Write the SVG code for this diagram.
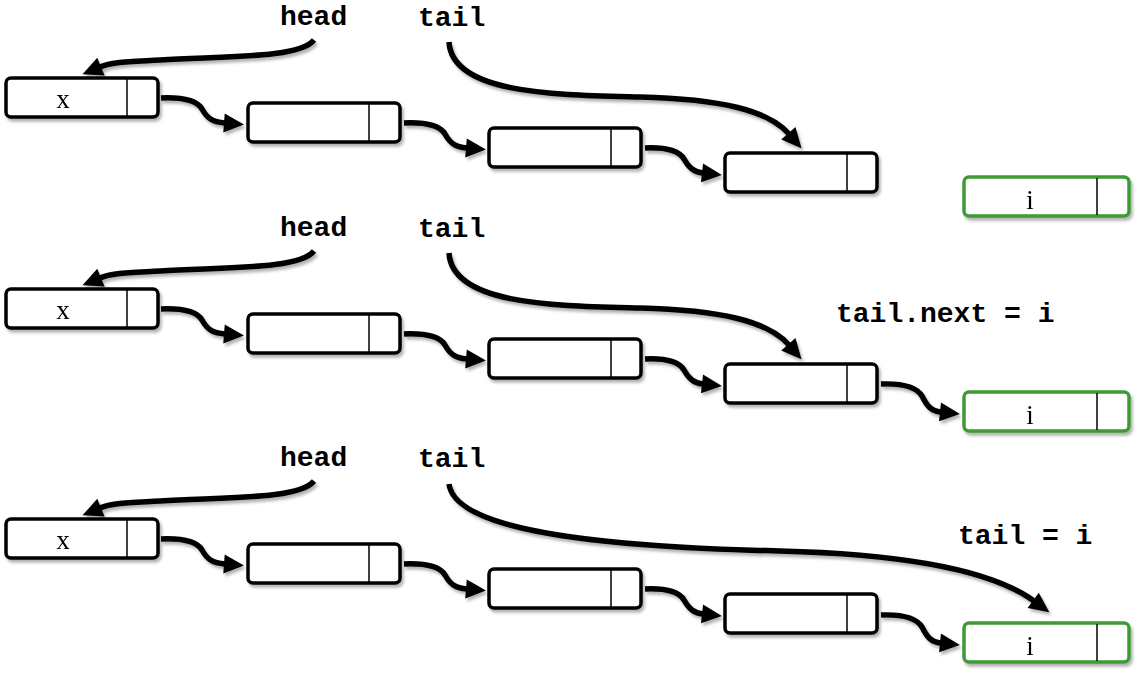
<svg xmlns="http://www.w3.org/2000/svg" width="1142" height="676" viewBox="0 0 1142 676">
  <style>
    .box { fill: #fff; stroke: #000; stroke-width: 3.5; }
    .box.new { stroke: #3c9a35; }
    .div { stroke: #000; stroke-width: 1.5; }
    .val { font-family: "Liberation Serif", "Times New Roman", serif; font-size: 27px; text-anchor: middle; fill: #000; }
    .code { font-family: "Liberation Mono", "Courier New", monospace; font-weight: bold; font-size: 28px; fill: #000; }
    .link { fill: none; stroke: #000; stroke-width: 5.5; marker-end: url(#head); }
    .shadow { filter: url(#drop); }
  </style>
  <defs>
    <filter id="drop" x="-10%" y="-30%" width="120%" height="160%">
      <feDropShadow dx="2" dy="3" stdDeviation="1.5" flood-color="#000" flood-opacity="0.3"/>
    </filter>
    <marker id="head" markerUnits="userSpaceOnUse" markerWidth="22" markerHeight="20" viewBox="0 -10 22 20" refX="1" refY="0" orient="auto" overflow="visible">
      <path d="M0,-9.5 L20,0 L0,9.5 z" fill="#000"/>
    </marker>
  </defs>
  <rect width="1142" height="676" fill="#fff"/>

  <!-- Row 1: list before the append -->
  <g id="row1">
    <g class="shadow">
      <g id="r1-n1"><rect class="box" x="6" y="78" width="152" height="39" rx="5"/><line class="div" x1="127" y1="79" x2="127" y2="116"/><text class="val" x="63" y="108">x</text></g>
      <g id="r1-n2"><rect class="box" x="248" y="103" width="152" height="39" rx="5"/><line class="div" x1="369" y1="104" x2="369" y2="141"/></g>
      <g id="r1-n3"><rect class="box" x="489" y="128" width="152" height="39" rx="5"/><line class="div" x1="611" y1="129" x2="611" y2="166"/></g>
      <g id="r1-n4"><rect class="box" x="725" y="153" width="152" height="39" rx="5"/><line class="div" x1="847" y1="154" x2="847" y2="191"/></g>
      <g id="r1-i"><rect class="box new" x="964" y="177" width="165" height="39" rx="5"/><line class="div" x1="1097" y1="178" x2="1097" y2="215"/><text class="val" x="1030" y="209">i</text></g>
      <g id="r1-links">
        <path class="link" d="M314,40 C300,58 230,56 160,60 C125,62 112,62 100,67"/>
        <path class="link" d="M449,42 C452,95 560,95 640,97 C720,99 768,110 789,134"/>
        <path class="link" d="M161,98 C185,97 197,101 202,109 C207,118 212,122 225,123"/>
        <path class="link" d="M404,123 C428,122 440,126 445,134 C450,143 455,147 467,148"/>
        <path class="link" d="M645,148 C668,147 679,151 684,159 C689,168 694,172 703,173"/>
      </g>
    </g>
    <text class="code" x="280" y="25">head</text>
    <text class="code" x="418" y="26">tail</text>
  </g>

  <!-- Row 2: tail.next = i -->
  <g id="row2" transform="translate(0,211)">
    <g class="shadow">
      <g id="r2-n1"><rect class="box" x="6" y="78" width="152" height="39" rx="5"/><line class="div" x1="127" y1="79" x2="127" y2="116"/><text class="val" x="63" y="108">x</text></g>
      <g id="r2-n2"><rect class="box" x="248" y="103" width="152" height="39" rx="5"/><line class="div" x1="369" y1="104" x2="369" y2="141"/></g>
      <g id="r2-n3"><rect class="box" x="489" y="128" width="152" height="39" rx="5"/><line class="div" x1="611" y1="129" x2="611" y2="166"/></g>
      <g id="r2-n4"><rect class="box" x="725" y="153" width="152" height="39" rx="5"/><line class="div" x1="847" y1="154" x2="847" y2="191"/></g>
      <g id="r2-i"><rect class="box new" x="964" y="181" width="165" height="39" rx="5"/><line class="div" x1="1097" y1="182" x2="1097" y2="219"/><text class="val" x="1030" y="213">i</text></g>
      <g id="r2-links">
        <path class="link" d="M314,40 C300,58 230,56 160,60 C125,62 112,62 100,67"/>
        <path class="link" d="M449,42 C452,95 560,95 640,97 C720,99 768,110 789,134"/>
        <path class="link" d="M161,98 C185,97 197,101 202,109 C207,118 212,122 225,123"/>
        <path class="link" d="M404,123 C428,122 440,126 445,134 C450,143 455,147 467,148"/>
        <path class="link" d="M645,148 C668,147 679,151 684,159 C689,168 694,172 703,173"/>
        <path class="link" d="M881,173 C905,172 917,177 922,185 C927,195 931,200 941,201"/>
      </g>
    </g>
    <text class="code" x="280" y="25">head</text>
    <text class="code" x="418" y="26">tail</text>
    <text class="code" x="836" y="111">tail.next = i</text>
  </g>

  <!-- Row 3: tail = i -->
  <g id="row3" transform="translate(0,441)">
    <g class="shadow">
      <g id="r3-n1"><rect class="box" x="6" y="78" width="152" height="39" rx="5"/><line class="div" x1="127" y1="79" x2="127" y2="116"/><text class="val" x="63" y="108">x</text></g>
      <g id="r3-n2"><rect class="box" x="248" y="103" width="152" height="39" rx="5"/><line class="div" x1="369" y1="104" x2="369" y2="141"/></g>
      <g id="r3-n3"><rect class="box" x="489" y="128" width="152" height="39" rx="5"/><line class="div" x1="611" y1="129" x2="611" y2="166"/></g>
      <g id="r3-n4"><rect class="box" x="725" y="153" width="152" height="39" rx="5"/><line class="div" x1="847" y1="154" x2="847" y2="191"/></g>
      <g id="r3-i"><rect class="box new" x="964" y="182" width="165" height="39" rx="5"/><line class="div" x1="1097" y1="183" x2="1097" y2="220"/><text class="val" x="1030" y="214">i</text></g>
      <g id="r3-links">
        <path class="link" d="M314,40 C300,58 230,56 160,60 C125,62 112,62 100,67"/>
        <path class="link" d="M449,43 C455,90 600,106 780,110 C900,113 990,128 1034,160"/>
        <path class="link" d="M161,98 C185,97 197,101 202,109 C207,118 212,122 225,123"/>
        <path class="link" d="M404,123 C428,122 440,126 445,134 C450,143 455,147 467,148"/>
        <path class="link" d="M645,148 C668,147 679,151 684,159 C689,168 694,172 703,173"/>
        <path class="link" d="M881,174 C905,173 917,178 922,186 C927,196 931,201 941,202"/>
      </g>
    </g>
    <text class="code" x="280" y="25">head</text>
    <text class="code" x="418" y="26">tail</text>
    <text class="code" x="958" y="103">tail = i</text>
  </g>
</svg>
